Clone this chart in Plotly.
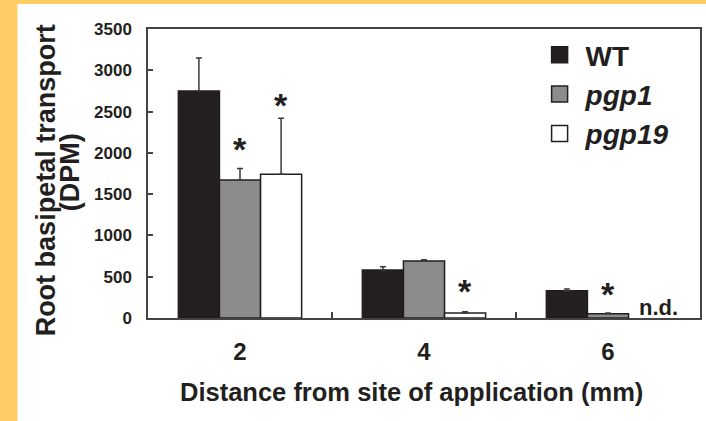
import plotly.graph_objects as go

# ---- data ----
categories = ["2", "4", "6"]
wt = [2750, 580, 330]
wt_err = [400, 40, 20]
pgp1 = [1670, 690, 50]
pgp1_err = [140, 15, 10]
pgp19 = [1740, 60, None]          # n.d. at 6 mm
pgp19_err = [680, 15, None]
series_names = ["WT", "<i>pgp1</i>", "<i>pgp19</i>"]
y_ticks = [0, 500, 1000, 1500, 2000, 2500, 3000, 3500]
# significance marks: (series index, category index, extra pixel lift)
stars = [(1, 0, 13), (2, 0, 6), (2, 1, 14), (1, 2, 12)]
nd_marks = [(2, 2)]

# ---- layout geometry (pixels) ----
W, H = 706, 421
L, R, T, B = 148, 702, 29, 318
PW, PH = R - L, B - T
BARGAP = 0.33

def px_x(p):
    return (p - L) / PW

def px_y(p):
    return (B - p) / PH

INK = "#231f20"
AX = "#444444"
FILLS = [INK, "#8c8c8c", "#ffffff"]
FONT = "Liberation Sans, Arial, sans-serif"

values = [wt, pgp1, pgp19]
errors = [wt_err, pgp1_err, pgp19_err]

fig = go.Figure()
for i, (vals, errs) in enumerate(zip(values, errors)):
    fig.add_trace(go.Bar(
        x=categories, y=vals, name=series_names[i], showlegend=False,
        marker=dict(color=FILLS[i], line=dict(color=INK, width=1.5)),
        error_y=dict(type="data", symmetric=False, array=errs,
                     arrayminus=[0] * len(errs), color="#3a3a3a",
                     thickness=1.5, width=3),
    ))
# legend entries with larger square swatches
for i in range(3):
    fig.add_trace(go.Scatter(
        x=[None], y=[None], mode="markers", name=series_names[i],
        marker=dict(symbol="square", size=16, color=FILLS[i],
                    line=dict(color=INK, width=1.5)),
    ))

bar_px = PW / len(categories) * (1 - BARGAP) / 3

annotations = []
for s, c, lift in stars:
    top = values[s][c] + errors[s][c]
    annotations.append(dict(
        x=c, xref="x", y=top, yref="y", xshift=(s - 1) * bar_px,
        yanchor="bottom", yshift=lift - 14, text="*", showarrow=False,
        font=dict(family=FONT, size=34, color=INK, weight="bold")))
for s, c in nd_marks:
    annotations.append(dict(
        x=c, xref="x", y=0, yref="y", xshift=(s - 1) * bar_px + 9,
        yanchor="bottom", yshift=-4, text="n.d.", showarrow=False,
        font=dict(family=FONT, size=22, color=INK, weight="bold")))

# axis titles
annotations.append(dict(
    x=px_x(412), y=px_y(392), xref="paper", yref="paper",
    text="Distance from site of application (mm)", showarrow=False,
    xanchor="center", yanchor="middle",
    font=dict(family=FONT, size=25.5, color=INK, weight="bold")))
annotations.append(dict(
    x=px_x(46), y=px_y(180), xref="paper", yref="paper",
    text="Root basipetal transport", textangle=-90, showarrow=False,
    xanchor="center", yanchor="middle",
    font=dict(family=FONT, size=27, color=INK, weight="bold")))
annotations.append(dict(
    x=px_x(70), y=px_y(172), xref="paper", yref="paper",
    text="(DPM)", textangle=-90, showarrow=False,
    xanchor="center", yanchor="middle",
    font=dict(family=FONT, size=27, color=INK, weight="bold")))

shapes = [dict(type="rect", xref="paper", yref="paper", layer="below",
               x0=px_x(17), x1=px_x(W + 5), y0=px_y(H + 5), y1=px_y(4),
               fillcolor="white", line=dict(width=0))]

fig.update_layout(
    width=W, height=H,
    margin=dict(l=L, r=W - R, t=T, b=H - B, pad=0),
    paper_bgcolor="#ffcc66", plot_bgcolor="white",
    barmode="group", bargap=BARGAP, bargroupgap=0,
    font=dict(family=FONT, color=INK),
    showlegend=True,
    legend=dict(x=px_x(535), y=px_y(30), xanchor="left", yanchor="top",
                bgcolor="rgba(0,0,0,0)", borderwidth=0, itemwidth=42,
                font=dict(family=FONT, size=28, color=INK, weight="bold")),
    annotations=annotations, shapes=shapes,
)
fig.update_xaxes(
    type="category", range=[-0.5, 2.5], tickson="boundaries",
    ticks="inside", ticklen=6, tickwidth=1.5, tickcolor=AX,
    showline=True, mirror=True, linecolor=AX, linewidth=1.5,
    showgrid=False, ticklabelstandoff=11,
    tickfont=dict(family=FONT, size=24, color=INK, weight="bold"),
)
fig.update_yaxes(
    range=[0, 3500], tickvals=y_ticks, ticks="inside", ticklen=5,
    tickwidth=1.5, tickcolor=AX, showline=True, mirror=True,
    linecolor=AX, linewidth=1.5, showgrid=False, zeroline=False,
    ticklabelstandoff=11,
    tickfont=dict(family=FONT, size=17, color=INK, weight="bold"),
)

fig.write_html("out.html", config={"displayModeBar": False},
               post_script="document.body.style.margin='0';")
